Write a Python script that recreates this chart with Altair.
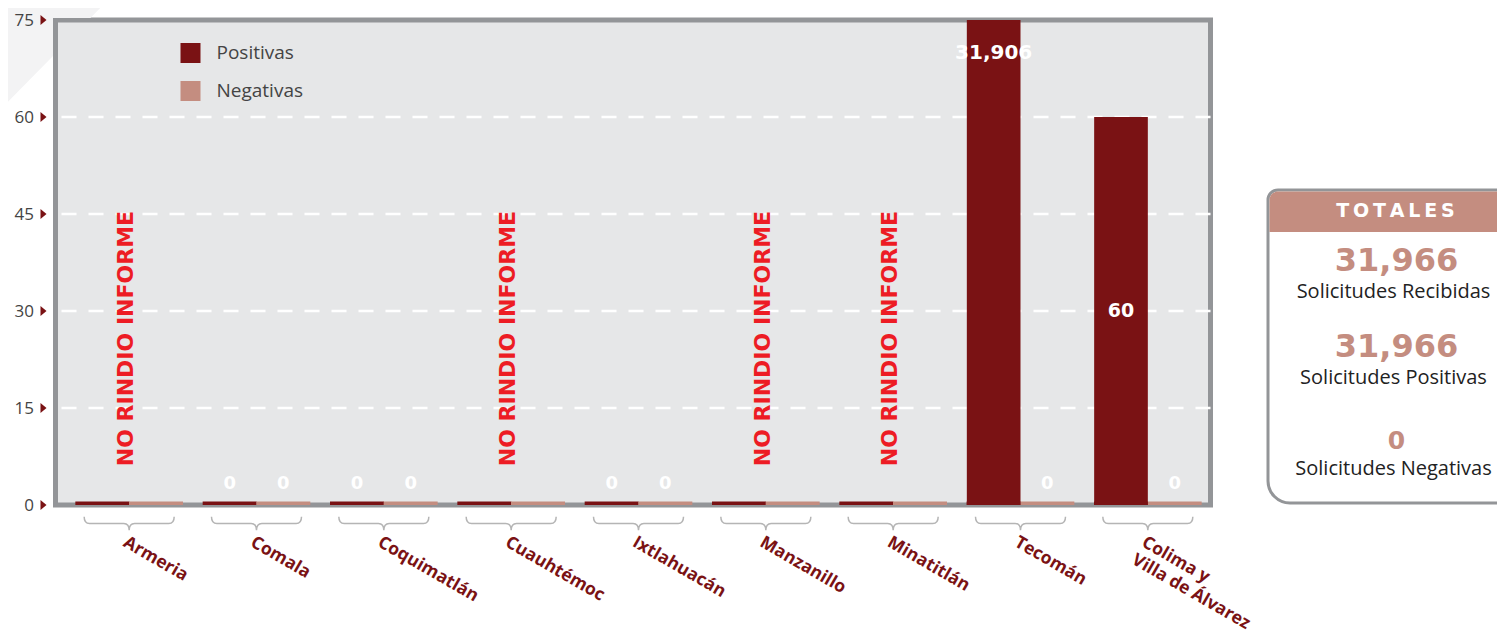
import altair as alt
import pandas as pd

# ---------------- data ----------------
munis = ["Armeria", "Comala", "Coquimatlán", "Cuauhtémoc", "Ixtlahuacán",
         "Manzanillo", "Minatitlán", "Tecomán", "Colima y Villa de Álvarez"]
positivas = [None, 0, 0, None, 0, None, None, 31906, 60]
negativas = [None, 0, 0, None, 0, None, None, 0, 0]
sin_informe = ["Armeria", "Cuauhtémoc", "Manzanillo", "Minatitlán"]
series = ["Positivas", "Negativas"]
colors = ["#7a1214", "#c48d80"]
y_ticks = [0, 15, 30, 45, 60, 75]
grid_vals = [15, 30, 45, 60]
totales_vals = ["31,966", "31,966", "0"]
totales_labels = ["Solicitudes Recibidas", "Solicitudes Positivas", "Solicitudes Negativas"]

rows = []
for m, p, n in zip(munis, positivas, negativas):
    rows.append({"muni": m, "tipo": "Positivas", "v": p})
    rows.append({"muni": m, "tipo": "Negativas", "v": n})
df = pd.DataFrame(rows)

W, H = 1155, 485
TOP = 12
YMAX = 75
HEAVY = "DejaVu Sans"
LIGHT = "Open Sans"

yscale = alt.Scale(domain=[0, YMAX], clamp=True, nice=False)
yaxis = alt.Axis(values=y_ticks, title=None, grid=False, zindex=1,
                 ticks=False, domain=False, labelPadding=22, labelFontSize=17,
                 labelColor="#444444", labelFont=LIGHT)


def Y(field):
    return alt.Y(field, scale=yscale, axis=yaxis)


label_expr = ("datum.value == 'Colima y Villa de Álvarez' ? "
              "['\u2009Colima y', '\u2009Villa de Álvarez'] : datum.label")
x = alt.X("muni:N", sort=munis, title=None,
          scale=alt.Scale(range=[20, 1146], paddingInner=0.157, paddingOuter=0),
          axis=alt.Axis(labelAngle=30, labelAlign="left", labelBaseline="top",
                        labelPadding=28, ticks=False, domain=False, zindex=1,
                        labelColor="#7a1214", labelFont=LIGHT, labelFontWeight="bold",
                        labelFontSize=17.5, labelLineHeight=20, labelExpr=label_expr,
                        labelOverlap=False, labelLimit=0))
xo = alt.XOffset("tipo:N", sort=series, scale=alt.Scale(paddingInner=0, paddingOuter=0))
color = alt.Color("tipo:N", sort=series, scale=alt.Scale(domain=series, range=colors),
                  legend=alt.Legend(orient="none", legendX=125, legendY=23, title=None,
                                    symbolType="square", symbolSize=400,
                                    symbolStrokeWidth=0, labelFontSize=19,
                                    labelFont=LIGHT, labelColor="#444444",
                                    rowPadding=18, labelOffset=16))

base = alt.Chart(df)

# faint diagonal decoration at top-left of the page (outside the plot)
deco = alt.Chart(pd.DataFrame({"a": [0]})).mark_point(
    shape="M 0 0 L 108 0 L 90.4 18 L 53 18 L 53 56 L 0 110 Z", size=4,
    filled=True, color="#f3f3f4", opacity=1
).encode(x=alt.value(-55.5), y=alt.value(-20))

# dashed white grid lines
grid = alt.Chart(pd.DataFrame({"g": grid_vals})).mark_rule(
    color="white", strokeDash=[15, 12], strokeWidth=2.5
).encode(y=Y("g:Q"))

# thin bars at zero for every group
zero_bars = base.mark_tick(thickness=3.5, size=54, yOffset=-1.75, opacity=1).encode(
    x=x, xOffset=xo, y=Y("z:Q"), color=color
).transform_calculate(z="0")

bars = base.transform_filter("isValid(datum.v) && datum.v > 0").mark_bar().encode(
    x=x, xOffset=xo, y=Y("v:Q"), color=color
)

lab_big = base.transform_filter(f"isValid(datum.v) && datum.v > {YMAX}").transform_calculate(
    ly=f"{YMAX}"
).mark_text(color="white", font=HEAVY, fontWeight="bold", fontSize=20, dy=32.5,
            baseline="middle").encode(
    x=x, xOffset=xo, y=Y("ly:Q"), text=alt.Text("v:Q", format=",d")
)

lab_mid = base.transform_filter(f"isValid(datum.v) && datum.v > 0 && datum.v <= {YMAX}").transform_calculate(
    ly="datum.v / 2"
).mark_text(color="white", font=HEAVY, fontWeight="bold", fontSize=19,
            baseline="middle").encode(
    x=x, xOffset=xo, y=Y("ly:Q"), text=alt.Text("v:Q", format=",d")
)

lab_zero = base.transform_filter("isValid(datum.v) && datum.v === 0").mark_text(
    color="white", font=HEAVY, fontWeight="bold", fontSize=18, dy=-21.5, baseline="middle"
).encode(x=x, xOffset=xo, y=Y("v:Q"), text=alt.Text("v:Q", format=",d"))

no_inf = alt.Chart(pd.DataFrame({"muni": sin_informe, "t": ["NO RINDIO INFORME"] * len(sin_informe)})).mark_text(
    color="#ed1c24", font=HEAVY, fontWeight="bold", fontSize=22, angle=270,
    align="left", baseline="middle", dy=-3
).encode(x=x, y=alt.datum(6), text="t:N")

# braces under each group
brace_path = ("M -1 -0.15 Q -1 0 -0.88 0 L -0.12 0 Q 0 0 0 0.15 "
              "Q 0 0 0.12 0 L 0.88 0 Q 1 0 1 -0.15")
braces = alt.Chart(pd.DataFrame({"muni": munis})).mark_point(
    shape=brace_path, size=8100, filled=False, stroke="#b5b5b5", strokeWidth=1.5,
    opacity=1, yOffset=18.5
).encode(x=x, y=alt.datum(0))

# triangle tick markers on y axis
tri = alt.Chart(pd.DataFrame({"t": y_ticks})).mark_point(
    shape="M -0.6 -1 L 0.6 0 L -0.6 1 Z", size=100, filled=True, color="#7a1214", opacity=1
).encode(x=alt.value(-12), y=Y("t:Q"))

# ---------------- totals box ----------------
one = pd.DataFrame({"a": [0]})
OFF = -2  # view moved down 2 px
BX0, BX1, BY0, BY1, HDR = 1212.5, 1470, 172 + OFF, 485 + OFF, 214 + OFF
CX = 1338
box = alt.Chart(one).mark_rect(fill="white", stroke="#939598", strokeWidth=3,
                               cornerRadiusTopLeft=10, cornerRadiusBottomLeft=22).encode(
    x=alt.value(BX0), x2=alt.value(BX1), y=alt.value(BY0), y2=alt.value(BY1))
hdr = alt.Chart(one).mark_rect(fill="#c48d80", cornerRadiusTopLeft=8.5).encode(
    x=alt.value(BX0 + 1.5), x2=alt.value(BX1), y=alt.value(BY0 + 1.5), y2=alt.value(HDR))
hdr_t = alt.Chart(one).mark_text(text="T\u2009O\u2009T\u2009A\u2009L\u2009E\u2009S", color="white",
                                 font=HEAVY, fontWeight="bold",
                                 fontSize=19, baseline="middle").encode(
    x=alt.value(CX + 2), y=alt.value(193 + OFF))
tot_layers = [box, hdr, hdr_t]
val_y = [243, 329, 422.5]
val_size = [32, 32, 25]
lab_y = [274, 360, 451]
for v, l, vy, vs, ly in zip(totales_vals, totales_labels, val_y, val_size, lab_y):
    tot_layers.append(alt.Chart(one).mark_text(text=v, color="#c48d80", font=HEAVY, fontWeight="bold",
                                               fontSize=vs, baseline="middle").encode(
        x=alt.value(CX + 3), y=alt.value(vy + OFF)))
    tot_layers.append(alt.Chart(one).mark_text(text=l, color="#222222", font=LIGHT,
                                               fontSize=20, baseline="middle").encode(
        x=alt.value(CX), y=alt.value(ly + OFF)))

chart = alt.layer(
    deco, grid, zero_bars, bars, lab_big, lab_mid, lab_zero, no_inf, braces, tri, *tot_layers
).properties(
    width=W, height=H,
    background="white",
    autosize=alt.AutoSizeParams(type="none"),
    padding={"left": 47.5, "top": TOP, "right": 286, "bottom": 130},
).configure_view(
    fill="#e6e7e8", stroke="#939598", strokeWidth=5
)

chart.save("out.html", embed_options={"renderer": "svg", "actions": False})
